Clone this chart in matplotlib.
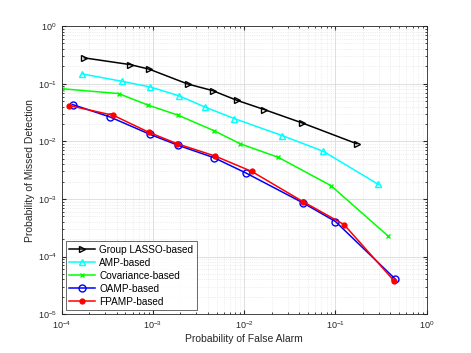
import numpy as np
import matplotlib
matplotlib.use("Agg")
from matplotlib import pyplot as plt

# values (Pfa, Pmd)
lasso_pfa = [1.77e-4, 5.6e-4, 9.1e-4, 2.4e-3, 4.5e-3, 8.3e-3, 1.66e-2, 4.34e-2, 1.71e-1]
lasso_pmd = [0.281, 0.215, 0.179, 0.099, 0.076, 0.0516, 0.0356, 0.0208, 0.0091]

amp_pfa = [1.68e-4, 4.6e-4, 9.3e-4, 1.95e-3, 3.7e-3, 7.8e-3, 2.62e-2, 7.37e-2, 2.95e-1]
amp_pmd = [0.148, 0.110, 0.088, 0.0614, 0.0395, 0.0248, 0.01256, 0.0067, 1.79e-3]

cov_pfa = [1.0e-4, 4.2e-4, 8.75e-4, 1.9e-3, 4.67e-3, 9.0e-3, 2.37e-2, 8.93e-2, 3.74e-1]
cov_pmd = [0.082, 0.0675, 0.0428, 0.0283, 0.0153, 9.1e-3, 5.27e-3, 1.7e-3, 2.3e-4]

oamp_pfa = [1.32e-4, 3.38e-4, 9.3e-4, 1.9e-3, 4.67e-3, 1.05e-2, 4.38e-2, 1.0e-1, 4.5e-1]
oamp_pmd = [0.0435, 0.0265, 0.0132, 8.5e-3, 5.2e-3, 2.81e-3, 8.6e-4, 4.06e-4, 4.1e-5]

fpamp_pfa = [1.21e-4, 3.68e-4, 9.06e-4, 1.84e-3, 4.8e-3, 1.21e-2, 4.45e-2, 1.24e-1, 4.38e-1]
fpamp_pmd = [0.0418, 0.0283, 0.0143, 9.1e-3, 5.55e-3, 3.0e-3, 8.9e-4, 3.6e-4, 3.8e-5]

plt.rcParams['font.family'] = ['Liberation Sans', 'DejaVu Sans']

fig = plt.figure(figsize=(4.71, 3.53), dpi=100)
ax = fig.add_axes([0.131, 0.110, 0.775, 0.816])

ax.loglog(lasso_pfa, lasso_pmd, color='k', marker='>', mfc='none', ms=5, lw=1.1, label='Group LASSO-based')
ax.loglog(amp_pfa, amp_pmd, color='#00ffff', marker='^', mfc='none', ms=5, lw=1.1, label='AMP-based')
ax.loglog(cov_pfa, cov_pmd, color='#00ff00', marker='x', ms=3.5, lw=1.1, label='Covariance-based')
ax.loglog(oamp_pfa, oamp_pmd, color='#0000ff', marker='o', mfc='none', ms=5, lw=1.1, label='OAMP-based')
ax.loglog(fpamp_pfa, fpamp_pmd, color='#ff0000', marker='o', ms=3.5, lw=1.1, label='FPAMP-based')

ax.set_xlim(1e-4, 1)
ax.set_ylim(1e-5, 1)
ax.grid(True, which='major', color='#d9d9d9', lw=0.6)
ax.grid(True, which='minor', color='#e0e0e0', lw=0.5, ls=':')
ax.tick_params(which='both', direction='in', top=True, right=True, labelsize=6.5, colors='#262626')
ax.tick_params(which='major', length=3)
ax.tick_params(which='minor', length=1.5)
for s in ax.spines.values():
    s.set_color('#262626')
    s.set_linewidth(0.6)

ax.set_xlabel('Probability of False Alarm', fontsize=7.5, color='#262626', labelpad=2)
ax.set_ylabel('Probability of Missed Detection', fontsize=7.5, color='#262626', labelpad=2)

leg = ax.legend(loc='lower left', fontsize=7.2, fancybox=False, edgecolor='#262626',
                handlelength=2.6, borderpad=0.35, labelspacing=0.3, handletextpad=0.4,
                borderaxespad=0.4)
leg.get_frame().set_linewidth(0.6)

fig.savefig('out.png', dpi=100)
